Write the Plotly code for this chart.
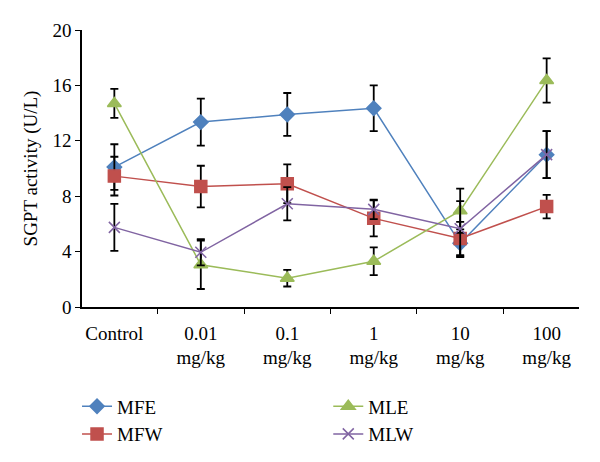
import plotly.graph_objects as go

categories = ["Control", "0.01<br>mg/kg", "0.1<br>mg/kg", "1<br>mg/kg", "10<br>mg/kg", "100<br>mg/kg"]

mfe = [10.1, 13.35, 13.9, 14.35, 4.6, 11.0]
mfe_err = [1.65, 1.7, 1.55, 1.65, 1.0, 1.7]
mfw = [9.45, 8.7, 8.9, 6.4, 4.95, 7.25]
mfw_err = [1.4, 1.5, 1.4, 1.3, 1.2, 0.85]
mle = [14.7, 3.05, 2.08, 3.3, 6.95, 16.35]
mle_err = [1.05, 1.75, 0.6, 1.0, 1.6, 1.6]
mlw = [5.75, 3.95, 7.45, 7.05, 5.65, 11.0]
mlw_err = [1.7, 0.95, 1.2, 0.7, 2.0, 1.7]

series = [
    ("MFE", mfe, mfe_err, "#4F81BD", "diamond", 11, 1),
    ("MFW", mfw, mfw_err, "#C0504D", "square", 12, 3),
    ("MLE", mle, mle_err, "#9BBB59", "triangle-up", 12, 2),
    ("MLW", mlw, mlw_err, "#8064A2", "x-thin-open", 11, 4),
]

fig = go.Figure()
for name, vals, errs, color, sym, size, rank in series:
    fig.add_trace(go.Scatter(
        x=categories, y=vals, name=name, mode="lines+markers",
        line=dict(color=color, width=1.5),
        marker=dict(symbol=sym, size=size, color=color,
                    line=dict(color=color, width=1.5)),
        error_y=dict(type="data", array=errs, color="black", thickness=1.8, width=4),
        legendrank=rank,
    ))

font = dict(family="Liberation Serif, Times New Roman, serif", size=19, color="black")
fig.update_layout(
    width=600, height=462,
    margin=dict(l=74, r=29, t=22, b=163, autoexpand=False),
    paper_bgcolor="white", plot_bgcolor="white",
    font=font,
    showlegend=True,
    legend=dict(orientation="h", x=-0.01, xanchor="left", y=-0.29, yanchor="top",
                entrywidth=0.44, entrywidthmode="fraction", traceorder="normal",
                font=dict(family=font["family"], size=19, color="black"),
                itemwidth=30, tracegroupgap=0),
    xaxis=dict(type="category", showline=True, linecolor="black", linewidth=1.5,
               ticks="outside", tickson="boundaries", ticklen=5, tickcolor="black",
               showgrid=False, zeroline=False, tickfont=font, automargin=False,
               ticklabelstandoff=8),
    yaxis=dict(range=[0, 20], dtick=4, showline=True, linecolor="black", linewidth=1.5,
               ticks="outside", ticklen=5, tickcolor="black", showgrid=False,
               zeroline=False, tickfont=font, automargin=False,
               title=dict(text="SGPT activity (U/L)", font=font, standoff=10)),
)
fig.write_html("out.html")
